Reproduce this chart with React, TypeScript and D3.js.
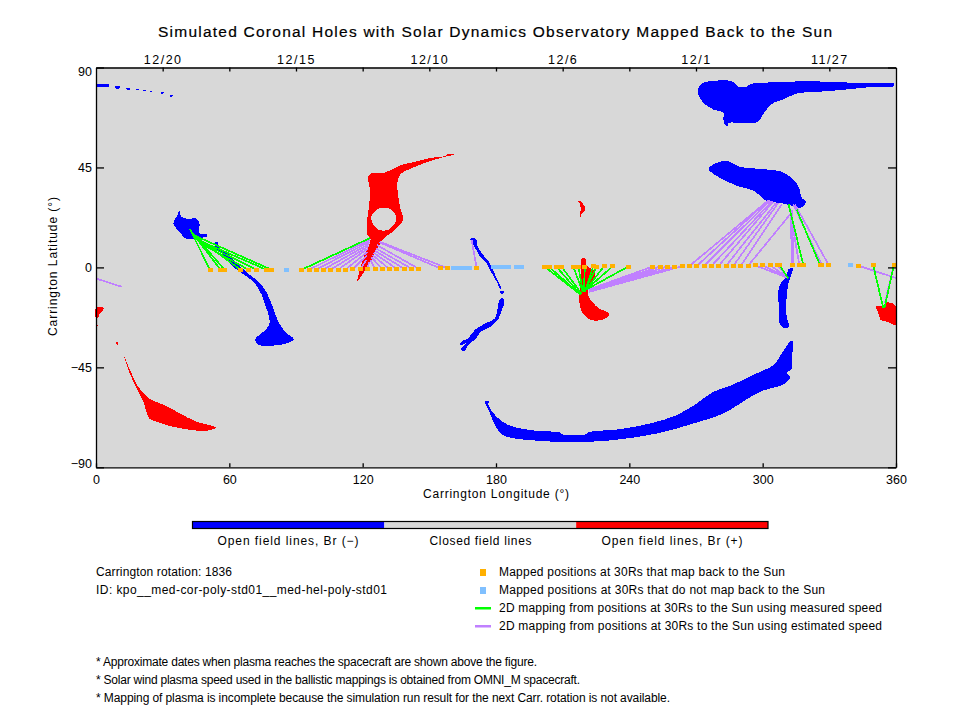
import React, { useRef, useEffect } from "react";
import * as d3 from "d3";

type Pt = [number, number];

// holes, [longitude, latitude] in degrees
const northStreaks: Pt[][] = [
  [[0, 82.6], [6, 82.6], [6, 81.4], [0, 81.4]],
  [[8.5, 81.5], [11, 81.5], [10.5, 80.5], [9, 80.5]],
  [[13.5, 80.9], [15.8, 80.9], [15, 80], [14, 80]],
  [[18, 80.5], [19.4, 80.5], [19.2, 79.8], [18.2, 79.8]],
  [[21, 80], [22.5, 80], [22.2, 79.3], [21.3, 79.3]],
  [[24, 79.6], [25.5, 79.6], [25.2, 78.9], [24.3, 78.9]],
  [[29, 78.9], [30.6, 78.9], [30.3, 78.2], [29.4, 78.2]],
  [[33, 77.6], [34.6, 77.6], [34, 76.8], [33.4, 76.8]],
];

const negativeHoles: Pt[][] = [
  [[37.5, 25.5], [38.4, 22.9], [42.3, 21.7], [44.1, 22.3], [46.5, 20.2], [46.5, 15.4], [49.8, 14.8], [49.8, 13.9], [46.8, 13.3], [42.3, 12.7], [40.05, 13.2], [38.1, 15.4], [34.8, 19.7], [35.4, 21.5], [36.6, 23.5]],
  [[54.9, 11.5], [54.9, 9.4], [58.8, 6.7], [63.3, 1.9], [69.3, -3.4], [73, -6.4], [76.1, -10.1], [78.3, -14.7], [79.8, -18.4], [82, -24.4], [85.1, -29], [89.1, -32.4], [87.3, -33.6], [83.3, -34.8], [73, -34.8], [71.6, -32.4], [75.3, -29], [77.9, -25.9], [77.9, -22.2], [76.1, -16.9], [74.6, -12.4], [70.8, -6.4], [65.6, -2.6], [60.3, 1.5], [56.6, 6.5], [53.7, 8.7], [53.6, 11.2]],
  [[168.3, 12.8], [171, 12.8], [171.6, 9.8], [174, 5.8], [176.6, 2.8], [179.6, -3.3], [181.8, -7.8], [182.4, -9.3], [181.8, -9.6], [180.6, -7], [178.5, -3.3], [175.1, 2.8], [172.8, 5], [170.6, 8.8], [169.5, 11]],
  [[181.8, -10.6], [183.6, -10.6], [183.3, -11.8], [182.6, -12.3], [182.3, -11.8]],
  [[181.8, -14.2], [183.6, -14.2], [183.6, -16.8], [182.6, -19], [181, -23.5], [176.6, -27.3], [172.8, -29.2], [171.3, -31.8], [167.6, -34.8], [165.6, -37.8], [164.3, -36.7], [166.8, -34], [164.1, -35.2], [164.1, -33.7], [167.6, -31.8], [170.6, -28], [175.1, -25.3], [179.6, -22.8], [180.6, -19]],
  [[359.1, 82.8], [359.1, 81.6], [347.6, 81.1], [334.8, 79.8], [322.8, 78.9], [315.3, 78.3], [309.3, 75.6], [304.8, 74.1], [301.1, 70.3], [297.3, 65.3], [284.6, 65], [284.6, 64], [283.1, 64], [282.3, 66.6], [282.3, 69.6], [277.8, 71.1], [273.3, 74.1], [271.1, 77.8], [271.1, 80.8], [273.3, 83.1], [279.3, 84.1], [286.1, 83.8], [289.1, 81.3], [292.8, 81.3], [294.3, 82.5], [307.8, 83.4], [319.8, 83.8], [334.8, 83.4], [347.6, 82.8]],
  [[283.1, 48.1], [284.6, 47.8], [289.1, 45.5], [298.8, 44.3], [307.8, 43.3], [313.1, 40.3], [316.1, 36.5], [317.6, 31.2], [319.5, 29.7], [318.3, 27.5], [316.1, 26.7], [311.6, 28.2], [307.8, 29], [301.1, 30.2], [296.6, 34.2], [288.3, 36.8], [280.8, 40.3], [276.3, 43.3], [275.6, 44.3], [277.8, 46.3]],
  [[311.6, -0.8], [313.5, -0.3], [312.3, -4.8], [311.6, -7.1], [310.8, -13.1], [310.8, -22.1], [311.9, -26.6], [310.5, -27.5], [307.8, -25.9], [307.4, -19.1], [307.1, -10.1], [308.6, -6.3], [310.8, -4.1]],
  [[175.1, -60.2], [176.6, -60.2], [176.6, -62], [180.3, -67.3], [185.6, -71], [198.3, -73.6], [208.8, -74.3], [209.6, -75.1], [220.8, -75.1], [221.6, -74.3], [235.8, -72.8], [249.3, -70.3], [261.3, -66.5], [270.3, -61.3], [277.8, -56], [285.3, -53.3], [297.3, -47.7], [304.8, -44], [308.6, -38.7], [312.3, -33.5], [313.5, -33.2], [313.1, -41.7], [313.1, -45.5], [310.8, -47.7], [312.3, -49.3], [310.1, -52.3], [298.8, -56], [289.8, -61.3], [282.3, -65.8], [268.8, -70.3], [252.3, -74.8], [229.1, -78.1], [211.8, -78.6], [199.8, -78.1], [183.3, -75.6], [179.6, -71], [177.3, -65.8]],
];

const positiveHoles: Pt[][] = [
  [[12.6, -39.9], [15, -45.5], [19, -53.8], [24, -59], [32.5, -62.8], [37.8, -65.8], [45.3, -69.5], [53.9, -72.1], [49.8, -73.6], [43.8, -73.3], [34.8, -71.8], [27.3, -69.5], [24, -68], [21.3, -60.5], [16.8, -51.5], [14.1, -44.7]],
  [[9, -33.8], [10, -33.8], [10, -35], [9.6, -35], [9.6, -34.4], [9, -34.4]],
  [[0, -18], [3.6, -18.4], [1.8, -20.7], [0.6, -23.1], [0, -23.1]],
  [[0, -25.8], [0.8, -25.8], [0.8, -26.4], [0, -26.4]],
  [[161.6, 51], [158.1, 51], [157.5, 50.3], [150.3, 49.2], [142.8, 47.3], [137.6, 46.2], [132.3, 43.7], [129.3, 42.5], [124.1, 42.5], [122.6, 41], [122.6, 38.7], [123, 37.2], [123, 28.2], [122.1, 22.2], [122.1, 14.7], [123.6, 12.9], [122.6, 9.5], [120.6, 5], [118.5, -1.8], [117.6, -6.3], [118.8, -4.8], [121.8, -0.3], [124.8, 5], [128.1, 11], [129.3, 12.9], [134.6, 17], [138.3, 21.5], [137.1, 26], [136.1, 31.2], [135.6, 38], [136.8, 41.7], [142.1, 44.7], [148.8, 47.3], [154.8, 49.2]],
  [[217, 30], [218.1, 29.8], [220.1, 26.8], [219.8, 25.3], [218.4, 23.8], [218.1, 22.5], [217.8, 22.5], [218.1, 26], [217.8, 28.3]],
  [[218.6, 4.2], [220.1, 4.2], [220.8, 0.8], [224.6, -1.8], [223.8, -5.5], [221.6, -9.3], [221.6, -13], [226.1, -18.3], [230.6, -20.5], [230.6, -22], [226.8, -23.8], [222.3, -23.5], [218.6, -19.8], [217.4, -14.5], [217.8, -10.8], [218.1, -2.5], [218.1, 2]],
  [[351, -17.3], [353.6, -17.3], [355.8, -15.8], [359.6, -16.9], [360, -25.9], [355.8, -24.4], [353.1, -23.6], [352, -20.6]],
];

// closed region inside the big positive hole
const closedIsland: Pt[] = [[127.05, 26.4], [132.3, 26.4], [135, 23.3], [135, 20.8], [131.6, 17], [127.05, 17], [124.05, 20.8], [124.05, 23.3]];

// positions at 30Rs
const mappedPositions: Pt[] = [
  [51.3, -1.1], [56.1, -1.1], [57.9, -1.1], [65.1, -1.1], [68.7, -1.1], [72.3, -1.1], [76.8, -1.1], [79.1, -1.1],
  [92.6, -1], [95.9, -1], [99, -1], [102.3, -1], [105.6, -1], [108.9, -1], [112.2, -1], [115.5, -0.9], [118.8, -0.9],
  [122.1, -0.8], [125.6, -0.8], [128.8, -0.7], [132, -0.7], [135.3, -0.6], [138.6, -0.6], [141.8, -0.5], [145, -0.5],
  [154.8, -0.4], [158.3, -0.4], [171.3, -0.3],
  [202, 0.2], [203.9, 0.2], [207.3, 0.2], [209.6, 0.2], [214.8, 0.2], [217.1, 0.2], [220, 0.3], [223.8, 0.6], [225.3, 0.3], [228.6, 0.5], [232.5, 0.5], [239.5, 0.4],
  [250.5, 0.4], [253.8, 0.4], [257.1, 0.4], [260.4, 0.4], [263.7, 0.5], [267, 0.6], [270.3, 0.6], [273.6, 0.6], [276.9, 0.6], [280.2, 0.7], [283.5, 0.7], [286.8, 0.7], [290.1, 0.7], [293.4, 0.7],
  [296.7, 0.9], [300, 0.9], [303.3, 1], [306.6, 1], [307.4, 1.2], [313.2, 1.1], [316.5, 1.1], [318.3, 1.1], [325.8, 1.1], [326.6, 1.1], [329.7, 1.1],
  [343, 0.8], [349.7, 1.1], [359.1, 1.3],
];

const unmappedPositions: Pt[] = [
  [85.8, -1], [160.8, -0.3], [162, -0.3], [163.2, -0.3], [164.4, -0.3], [166, -0.3], [168, -0.3],
  [178.7, 0], [181, 0], [182, 0], [183.6, 0], [185.4, 0], [189, 0.1], [191.6, 0.1], [339.6, 0.9],
];

// [lon at 30Rs, lat at 30Rs, lon on the Sun, lat on the Sun]
const measuredLinks: number[][] = [
  [51.3, -1.1, 42.3, 17.2], [56.1, -1.1, 44.6, 13.9], [57.9, -1.1, 43.5, 15.5], [65.1, -1.1, 44.6, 13.9],
  [68.7, -1.1, 46.8, 11], [72.3, -1.1, 46.8, 11.5], [76.8, -1.1, 45.5, 12.5], [79.1, -1.1, 44, 14.5],
  [92.6, -1, 123.3, 13.2],
  [202, 0.2, 218.1, -12.3], [203.9, 0.2, 218.1, -12.3], [207.3, 0.2, 218.1, -12.3], [209.6, 0.2, 218.6, -12],
  [214.8, 0.2, 219, -11], [217.1, 0.2, 219, -10.5], [220, 0.3, 219.5, -11], [223.8, 0.6, 220, -11],
  [225.3, 0.3, 220, -10.5], [228.6, 0.5, 220.5, -10], [232.5, 0.5, 220.5, -10], [239.5, 0.4, 221, -9.8],
  [307.4, 1.2, 311.5, -4.8], [318.3, 1.1, 311.6, 28.7], [325.8, 1.1, 315.3, 26],
  [349.7, 1.1, 354.3, -18.4], [359.1, 1.3, 354.8, -18.4],
];

const estimatedLinks: number[][] = [
  [92.6, -1, 123.3, 13.2], [95.9, -1, 123.2, 12.5], [99, -1, 123, 11.5], [102.3, -1, 122.8, 10.5],
  [105.6, -1, 122.6, 9.5], [108.9, -1, 122.4, 8.5], [112.2, -1, 122.2, 7], [115.5, -0.9, 122, 5.5], [118.8, -0.9, 121.8, 3.5],
  [122.1, -0.8, 123, 2.5], [125.6, -0.8, 123.5, 3.5], [128.8, -0.7, 124, 4.5], [132, -0.7, 124.5, 5.5],
  [135.3, -0.6, 125, 6.5], [138.6, -0.6, 125.5, 7.5], [141.8, -0.5, 126, 8.5], [145, -0.5, 126.5, 10],
  [154.8, -0.4, 127.5, 11.3], [158.3, -0.4, 127.8, 11.5], [171.3, -0.3, 169, 12.5],
  [250.5, 0.4, 221.7, -10], [253.8, 0.4, 221.7, -10.2], [257.1, 0.4, 221.7, -10.5], [260.4, 0.4, 221.9, -10.7], [263.7, 0.5, 222, -11],
  [267, 0.6, 302.6, 30.2], [270.3, 0.6, 302.6, 30.2], [273.6, 0.6, 303.3, 30.2], [276.9, 0.6, 304, 29.7],
  [280.2, 0.7, 304.8, 29.7], [283.5, 0.7, 306, 29], [286.8, 0.7, 307, 29], [290.1, 0.7, 308.6, 28.3], [293.4, 0.7, 312.3, 23.8],
  [296.7, 0.9, 311.5, -4.8], [300, 0.9, 311.5, -4.8], [303.3, 1, 311.5, -4.8], [306.6, 1, 311.5, -4.8],
  [313.2, 1.1, 312.6, 26], [313.8, 1.1, 313.2, 26], [316.5, 1.1, 312, 27.6], [326.6, 1.1, 313.8, 28.3], [329.7, 1.1, 314.5, 28.3],
  [343, 0.8, 360, -4.8], [0, -5, 11.5, -8.7], [359.1, 1.3, 355, -16],
];

const lonTicks = [0, 60, 120, 180, 240, 300, 360];
const latTicks = [-90, -45, 0, 45, 90];
const dateTicks = [30, 60, 90, 120, 150, 180, 210, 240, 270, 300, 330];
const dateLabels = new Map<number, string>([
  [30, "12/20"], [90, "12/15"], [150, "12/10"], [210, "12/6"], [270, "12/1"], [330, "11/27"],
]);
const barSegments = ["#0000ff", "#d8d8d8", "#ff0000"];
const barLabels = ["Open field lines, Br (\u2212)", "Closed field lines", "Open field lines, Br (+)"];

const ORANGE = "#ffb000";
const SKY = "#80c0ff";
const GREEN = "#00ff00";
const PURPLE = "#c080ff";
const FONT = "'Liberation Sans', sans-serif";

function App() {
  const chartRef = useRef<SVGSVGElement | null>(null);

  useEffect(() => {
    const svg = d3.select(chartRef.current);
    svg.selectAll("*").remove();

    const x = d3.scaleLinear().domain([0, 360]).range([96, 896]);
    const y = d3.scaleLinear().domain([-90, 90]).range([467.3, 67.5]);
    const line = d3.line<Pt>().x((d) => x(d[0])).y((d) => y(d[1])).curve(d3.curveLinearClosed);
    const smooth = d3.line<Pt>().x((d) => x(d[0])).y((d) => y(d[1])).curve(d3.curveCatmullRomClosed.alpha(0.5));

    // plot background
    svg.append("rect")
      .attr("x", x(0)).attr("y", y(90))
      .attr("width", x(360) - x(0)).attr("height", y(-90) - y(90))
      .attr("fill", "#d8d8d8");

    const g = svg.append("g").attr("shape-rendering", "crispEdges");

    g.selectAll("path.neg")
      .data(negativeHoles)
      .join("path")
      .attr("class", "neg")
      .attr("d", (d) => smooth(d))
      .attr("fill", "#0000ff");

    g.selectAll("path.streak")
      .data(northStreaks)
      .join("path")
      .attr("class", "streak")
      .attr("d", (d) => line(d))
      .attr("fill", "#0000ff");

    g.selectAll("path.pos")
      .data(positiveHoles)
      .join("path")
      .attr("class", "pos")
      .attr("d", (d) => smooth(d))
      .attr("fill", "#ff0000");

    g.append("path").attr("d", smooth(closedIsland)).attr("fill", "#d8d8d8");

    const drawLinks = (links: number[][], color: string) => {
      g.append("g")
        .selectAll("line")
        .data(links)
        .join("line")
        .attr("x1", (d) => x(d[0]))
        .attr("y1", (d) => y(d[1]))
        .attr("x2", (d) => x(d[2]))
        .attr("y2", (d) => y(d[3]))
        .attr("stroke", color)
        .attr("stroke-width", 1.7);
    };
    drawLinks(estimatedLinks, PURPLE);
    drawLinks(measuredLinks, GREEN);

    const drawPoints = (pts: Pt[], color: string) => {
      g.append("g")
        .selectAll("rect")
        .data(pts)
        .join("rect")
        .attr("x", (d) => x(d[0]) - 2.5)
        .attr("y", (d) => y(d[1]) - 2)
        .attr("width", 5)
        .attr("height", 4)
        .attr("fill", color);
    };
    drawPoints(unmappedPositions, SKY);
    drawPoints(mappedPositions, ORANGE);

    // axes
    const styleAxis = (a: any, size = 12.5) => {
      a.attr("font-family", FONT).attr("font-size", size);
      a.selectAll("path,line").attr("stroke", "#000").attr("stroke-width", 1.3);
      a.selectAll("text").attr("fill", "#000");
    };

    const bottom = svg.append("g").attr("transform", `translate(0,${y(-90)})`)
      .call(d3.axisBottom(x).tickValues(lonTicks).tickFormat((d) => String(d)).tickSize(-4).tickSizeOuter(0).tickPadding(8));
    styleAxis(bottom);

    const top = svg.append("g").attr("transform", `translate(0,${y(90)})`)
      .call(d3.axisTop(x).tickValues(dateTicks).tickFormat((d) => dateLabels.get(d as number) ?? "").tickSize(-4).tickSizeOuter(0).tickPadding(4));
    styleAxis(top);
    top.selectAll("text").attr("letter-spacing", 1.5);

    const left = svg.append("g").attr("transform", `translate(${x(0)},0)`)
      .call(d3.axisLeft(y).tickValues(latTicks).tickFormat((d) => (d as number) < 0 ? `\u2212${-(d as number)}` : String(d)).tickSize(-8).tickSizeOuter(0).tickPadding(4));
    styleAxis(left);
    left.selectAll("text").attr("dy", (d: any) => (d === 90 ? "0.6em" : d === -90 ? "-0.02em" : "0.32em"));

    const right = svg.append("g").attr("transform", `translate(${x(360)},0)`)
      .call(d3.axisRight(y).tickValues(latTicks).tickFormat(() => "").tickSize(-8).tickSizeOuter(0));
    styleAxis(right);

    // labels are stretched to the widths of the original lettering
    const label = (txt: string, px: number, py: number, len: number, size = 12) =>
      svg.append("text")
        .attr("x", px).attr("y", py)
        .attr("font-family", FONT)
        .attr("font-size", size)
        .attr("textLength", len)
        .attr("lengthAdjust", "spacing")
        .attr("fill", "#000")
        .text(txt);

    label("Simulated Coronal Holes with Solar Dynamics Observatory Mapped Back to the Sun", 158, 37, 674, 15.5)
      .attr("stroke", "#000").attr("stroke-width", 0.2);
    label("Carrington Longitude (\u00b0)", 423, 498, 146);
    label("Carrington Latitude (\u00b0)", -336, 57, 139).attr("transform", "rotate(-90)");

    // colour bar
    const bar = d3.scaleBand<number>().domain([0, 1, 2]).range([192.5, 768]);
    svg.append("g").selectAll("rect")
      .data(barSegments)
      .join("rect")
      .attr("x", (_, i) => bar(i) as number)
      .attr("y", 521.5)
      .attr("width", bar.bandwidth())
      .attr("height", 7)
      .attr("fill", (d) => d);
    svg.append("rect")
      .attr("x", 192.5).attr("y", 521.5)
      .attr("width", 575.5).attr("height", 7)
      .attr("fill", "none").attr("stroke", "#000").attr("stroke-width", 1.2);
    label(barLabels[0], 217.5, 545, 141);
    label(barLabels[1], 429.5, 545, 102);
    label(barLabels[2], 601.5, 545, 141);

    label("Carrington rotation: 1836", 96, 576, 136);
    label("ID: kpo__med-cor-poly-std01__med-hel-poly-std01", 96, 594, 291);

    // legend
    svg.append("rect").attr("x", 480).attr("y", 569).attr("width", 6).attr("height", 7).attr("fill", ORANGE);
    svg.append("rect").attr("x", 480).attr("y", 587).attr("width", 6).attr("height", 7).attr("fill", SKY);
    svg.append("rect").attr("x", 475).attr("y", 607).attr("width", 16).attr("height", 2.5).attr("fill", GREEN);
    svg.append("rect").attr("x", 475).attr("y", 625).attr("width", 16).attr("height", 2.5).attr("fill", PURPLE);
    label("Mapped positions at 30Rs that map back to the Sun", 499, 576, 286);
    label("Mapped positions at 30Rs that do not map back to the Sun", 499, 594, 326);
    label("2D mapping from positions at 30Rs to the Sun using measured speed", 499, 612, 383);
    label("2D mapping from positions at 30Rs to the Sun using estimated speed", 499, 630, 383);

    // notes
    label("* Approximate dates when plasma reaches the spacecraft are shown above the figure.", 96, 666, 441);
    label("* Solar wind plasma speed used in the ballistic mappings is obtained from OMNI_M spacecraft.", 96, 684, 484);
    label("* Mapping of plasma is incomplete because the simulation run result for the next Carr. rotation is not available.", 96, 702, 574);
  }, []);

  return (
    <svg
      ref={chartRef}
      width={960}
      height={720}
      style={{ position: "absolute", left: 0, top: 0, background: "#fff" }}
    />
  );
}

export default App;
